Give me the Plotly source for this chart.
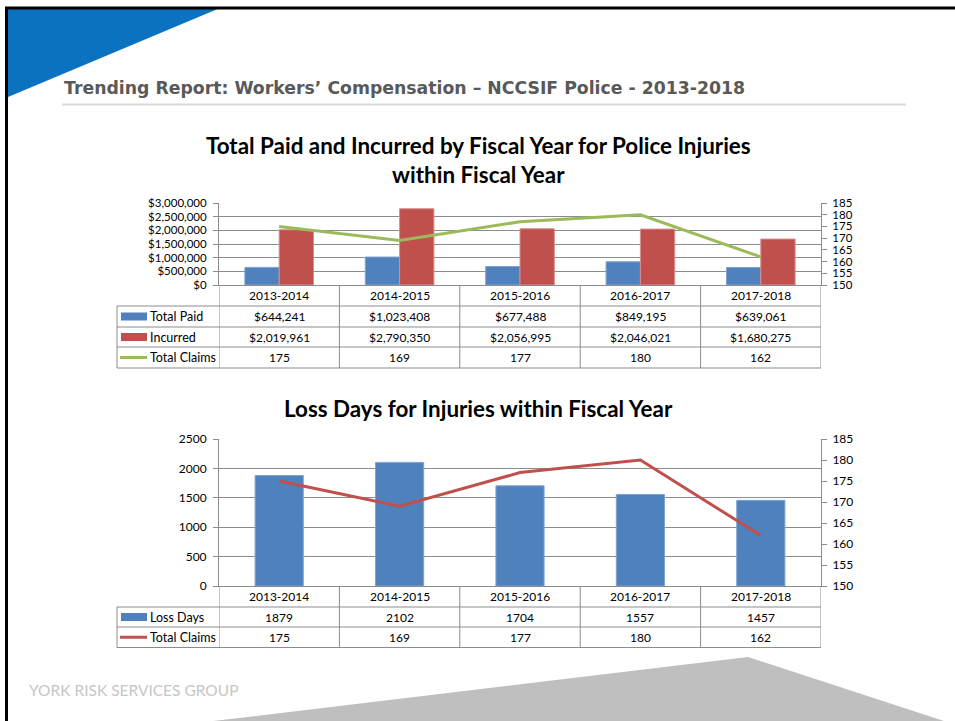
import plotly.graph_objects as go

# ---------------- data ----------------
years = ["2013-2014", "2014-2015", "2015-2016", "2016-2017", "2017-2018"]
total_paid = [644241, 1023408, 677488, 849195, 639061]
incurred = [2019961, 2790350, 2056995, 2046021, 1680275]
total_claims = [175, 169, 177, 180, 162]
loss_days = [1879, 2102, 1704, 1557, 1457]

left_ticks_1 = [0, 500000, 1000000, 1500000, 2000000, 2500000, 3000000]
left_labels_1 = [f"${v:,}" for v in left_ticks_1]
right_ticks = [150, 155, 160, 165, 170, 175, 180, 185]
left_ticks_2 = [0, 500, 1000, 1500, 2000, 2500]

header_text = "Trending Report: Workers\u2019 Compensation \u2013 NCCSIF Police - 2013-2018"
title1 = "Total Paid and Incurred by Fiscal Year for Police Injuries<br>within Fiscal Year"
title2 = "Loss Days for Injuries within Fiscal Year"
footer_text = "YORK RISK SERVICES GROUP"

# ---------------- style ----------------
W, H = 955, 721
BLUE = "#4F81BD"
RED = "#C0504D"
GREEN = "#9BBB59"
GRID = "#8c8c8c"
LINE = "#8c8c8c"
FONT = "Lato, 'Open Sans', sans-serif"
TXT = "#000000"


def X(px):
    return px / W


def Y(py):
    return 1 - py / H


xs = list(range(len(years)))

fig = go.Figure()

# chart 1
fig.add_trace(go.Bar(x=xs, y=total_paid, name="Total Paid", marker=dict(color=BLUE, line=dict(color="#7fa3d2", width=1)),
                     width=0.285, offset=-0.285, xaxis="x", yaxis="y"))
fig.add_trace(go.Bar(x=xs, y=incurred, name="Incurred", marker=dict(color=RED, line=dict(color="#d88f8c", width=1)),
                     width=0.285, offset=0.0, xaxis="x", yaxis="y"))
fig.add_trace(go.Scatter(x=xs, y=total_claims, name="Total Claims", mode="lines",
                         line=dict(color=GREEN, width=3), xaxis="x", yaxis="y2"))
# chart 2
fig.add_trace(go.Bar(x=xs, y=loss_days, name="Loss Days", marker=dict(color=BLUE, line=dict(color="#7fa3d2", width=1)),
                     width=0.4, offset=-0.2, xaxis="x2", yaxis="y3"))
fig.add_trace(go.Scatter(x=xs, y=total_claims, name="Total Claims", mode="lines",
                         line=dict(color=RED, width=3), xaxis="x2", yaxis="y4"))

xdom = [X(219), X(821)]


def yax(size, standoff):
    return dict(showline=True, linecolor=LINE, linewidth=1, ticks="outside", ticklen=5, tickcolor=LINE,
                zeroline=False, automargin=False, ticklabelstandoff=standoff,
                tickfont=dict(family=FONT, size=size, color=TXT))


fig.update_layout(
    width=W, height=H,
    margin=dict(l=0, r=0, t=0, b=0, pad=0, autoexpand=False),
    paper_bgcolor="white", plot_bgcolor="rgba(0,0,0,0)",
    showlegend=False,
    barmode="overlay",
    font=dict(family=FONT, size=12, color=TXT),
    xaxis=dict(domain=xdom, range=[-0.5, 4.5], anchor="y", showticklabels=False, showgrid=False,
               showline=True, linecolor=LINE, zeroline=False, ticks="", automargin=False),
    yaxis=dict(domain=[Y(285), Y(203)], range=[0, 3000000], tickvals=left_ticks_1, ticktext=left_labels_1,
               showgrid=True, gridcolor=GRID, gridwidth=1, anchor="x", **yax(11.5, 4)),
    yaxis2=dict(overlaying="y", side="right", range=[150, 185], tickvals=right_ticks, showgrid=False,
                anchor="x", **yax(11.5, 3)),
    xaxis2=dict(domain=xdom, range=[-0.5, 4.5], anchor="y3", showticklabels=False, showgrid=False,
                showline=True, linecolor=LINE, zeroline=False, ticks="", automargin=False),
    yaxis3=dict(domain=[Y(586), Y(439)], range=[0, 2500], tickvals=left_ticks_2, tickformat="d",
                showgrid=True, gridcolor=GRID, gridwidth=1, anchor="x2", **yax(12, 4)),
    yaxis4=dict(overlaying="y3", side="right", range=[150, 185], tickvals=right_ticks, showgrid=False,
                anchor="x2", **yax(12, 3)),
)

shapes = []
annotations = []

# ---- slide decoration ----
shapes.append(dict(type="path", xref="paper", yref="paper",
                   path=f"M {X(8)},{Y(8)} L {X(220)},{Y(8)} L {X(8)},{Y(97)} Z",
                   fillcolor="#0a72c0", line=dict(width=0), layer="below"))
shapes.append(dict(type="path", xref="paper", yref="paper",
                   path=f"M {X(205)},{Y(722)} L {X(748)},{Y(657)} L {X(947)},{Y(722)} Z",
                   fillcolor="#bfbfbf", line=dict(width=0), layer="below"))
shapes.append(dict(type="line", xref="paper", yref="paper", x0=X(6.5), x1=X(6.5), y0=Y(7), y1=Y(721),
                   line=dict(color="black", width=3)))
shapes.append(dict(type="line", xref="paper", yref="paper", x0=X(5), x1=X(955), y0=Y(8), y1=Y(8),
                   line=dict(color="black", width=3)))
shapes.append(dict(type="line", xref="paper", yref="paper", x0=X(62), x1=X(906), y0=Y(104.5), y1=Y(104.5),
                   line=dict(color="#d9d9d9", width=2)))

annotations.append(dict(text=f"<b>{header_text}</b>", xref="paper", yref="paper", x=X(62), y=Y(88),
                        xanchor="left", yanchor="middle", showarrow=False,
                        font=dict(family="DejaVu Sans, sans-serif", size=17.3, color="#595959")))
annotations.append(dict(text=footer_text, xref="paper", yref="paper", x=X(27), y=Y(690),
                        xanchor="left", yanchor="middle", showarrow=False,
                        font=dict(family=FONT, size=15.5, color="#c6c6c6")))

# ---- titles ----
annotations.append(dict(text=f"<b>{title1}</b>", xref="paper", yref="paper", x=X(478), y=Y(160),
                        xanchor="center", yanchor="middle", showarrow=False,
                        font=dict(family=FONT, size=22.4, color=TXT)))
annotations.append(dict(text=f"<b>{title2}</b>", xref="paper", yref="paper", x=X(478), y=Y(408),
                        xanchor="center", yanchor="middle", showarrow=False,
                        font=dict(family=FONT, size=22.4, color=TXT)))


def data_table(xref, axis_bottom, row_lines, rows):
    """rows: list of (label, key_type, key_color, values)"""
    table_bottom = row_lines[-1]
    for yl in row_lines:
        shapes.append(dict(type="line", xref="paper", yref="paper", x0=X(117), x1=X(821), y0=Y(yl), y1=Y(yl),
                           line=dict(color=LINE, width=1)))
    for b in [i - 0.5 for i in range(len(years) + 1)]:
        shapes.append(dict(type="line", xref=xref, yref="paper", x0=b, x1=b, y0=Y(axis_bottom), y1=Y(table_bottom),
                           line=dict(color=LINE, width=1)))
    shapes.append(dict(type="line", xref="paper", yref="paper", x0=X(117), x1=X(117), y0=Y(row_lines[0]),
                       y1=Y(table_bottom), line=dict(color=LINE, width=1)))
    hy = (axis_bottom + row_lines[0]) / 2
    for i, yr in enumerate(years):
        annotations.append(dict(text=yr, xref=xref, yref="paper", x=i, y=Y(hy), xanchor="center",
                                yanchor="middle", showarrow=False, font=dict(family=FONT, size=12, color=TXT)))
    for r, (label, ktype, kcolor, vals) in enumerate(rows):
        cy = (row_lines[r] + row_lines[r + 1]) / 2
        if ktype == "bar":
            shapes.append(dict(type="rect", xref="paper", yref="paper", x0=X(121), x1=X(147), y0=Y(cy - 4),
                               y1=Y(cy + 4), fillcolor=kcolor, line=dict(width=0)))
        else:
            shapes.append(dict(type="line", xref="paper", yref="paper", x0=X(120), x1=X(147), y0=Y(cy),
                               y1=Y(cy), line=dict(color=kcolor, width=3)))
        annotations.append(dict(text=label, xref="paper", yref="paper", x=X(148), y=Y(cy), xanchor="left",
                                yanchor="middle", showarrow=False, font=dict(family=FONT, size=12.5, color=TXT)))
        for i, v in enumerate(vals):
            annotations.append(dict(text=v, xref=xref, yref="paper", x=i, y=Y(cy), xanchor="center",
                                    yanchor="middle", showarrow=False, font=dict(family=FONT, size=12, color=TXT)))


data_table("x", 285, [306, 327, 347, 368], [
    ("Total Paid", "bar", BLUE, [f"${v:,}" for v in total_paid]),
    ("Incurred", "bar", RED, [f"${v:,}" for v in incurred]),
    ("Total Claims", "line", GREEN, [str(v) for v in total_claims]),
])
data_table("x2", 586, [607, 627, 647.5], [
    ("Loss Days", "bar", BLUE, [str(v) for v in loss_days]),
    ("Total Claims", "line", RED, [str(v) for v in total_claims]),
])

fig.update_layout(shapes=shapes, annotations=annotations)
fig.write_html("out.html", config={"displayModeBar": False},
               post_script="document.body.style.margin='0px';document.body.style.padding='0px';")
